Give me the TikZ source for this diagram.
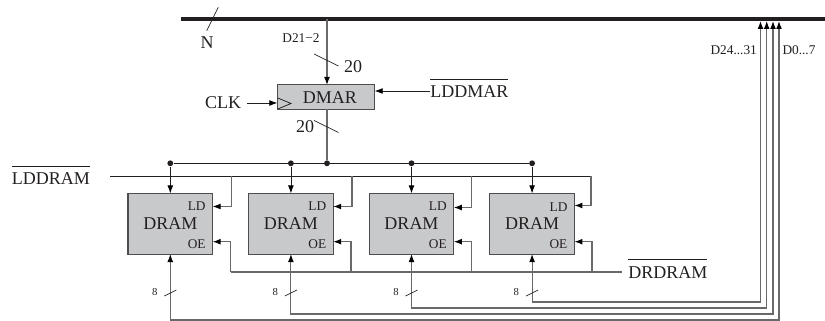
\documentclass[tikz,border=0pt]{standalone}
\usepackage{fontspec}
\setmainfont{Liberation Serif}
\usetikzlibrary{arrows.meta,positioning}
\definecolor{boxfill}{RGB}{200,201,203}
\definecolor{wirecol}{RGB}{105,105,105}
\definecolor{inkcol}{RGB}{35,31,32}
\newcommand{\barred}[1]{\vbox{\hrule height 0.7pt\kern 4.4pt\hbox{#1}}}

\begin{document}
\begin{tikzpicture}[
  x=0.75pt, y=-0.75pt,
  every node/.style={text=inkcol},
  chip/.style={draw=inkcol!80, line width=0.8pt, fill=boxfill, inner sep=0pt, outer sep=0pt, font=\fontsize{13.5}{15}\selectfont},
  dram/.style={chip, minimum width=63.45pt, minimum height=45.5pt},
  reg/.style={chip, minimum width=73pt, minimum height=18.4pt},
  big/.style={inner sep=0pt, font=\fontsize{13.5}{15}\selectfont},
  small/.style={inner sep=0pt, font=\fontsize{10}{12}\selectfont},
  tiny/.style={inner sep=0pt, font=\fontsize{8}{10}\selectfont},
  dot/.style={circle, fill=inkcol, inner sep=0pt, minimum size=4.4pt},
  wire/.style={draw=wirecol, line width=0.8pt},
  dark/.style={draw=inkcol, line width=0.6pt},
  arr/.style={-{Latex[length=6pt,width=4.4pt,color=black]}},
  both/.style={{Latex[length=6pt,width=4.4pt,color=black]}-{Latex[length=6pt,width=4.4pt,color=black]}},
  tick/.style={draw=inkcol, line width=0.5pt},
  node distance=27pt
]
  \useasboundingbox (0,0) rectangle (825,321);

  \coordinate (busl) at (181,19);
  \coordinate (busr) at (825,19);
  \draw[draw=inkcol, line width=3pt] (busl) -- (busr);
  \coordinate (ntop) at (218.3,7.3);
  \coordinate (nbot) at (206.7,30.7);
  \draw[tick] (ntop) -- (nbot);
  \node[big] (nlabel) at (207,43) {N};

  \node[reg] (dmar) at (326,97.2) {\hspace{6pt}DMAR};
  \node[small] (dlabel) at (301,38.5) {D21−2};
  \coordinate (busin) at (327,19);
  \draw[wire, arr] (busin) -- (busin |- dmar.north);
  \coordinate (t1a) at (314,54);
  \coordinate (t1b) at (338.5,66);
  \draw[tick] (t1a) -- (t1b);
  \node[big] (w1) at (353,66.5) {20};

  \node[big] (clk) at (223,103) {CLK};
  \coordinate (clkin) at (dmar.west |- clk);
  \draw[dark, arr] (247,103) -- (clkin);
  \coordinate (ck1) at (277.8,98);
  \coordinate (ck2) at (291,103.5);
  \coordinate (ck3) at (277.8,109);
  \draw[tick, line width=0.6pt] (ck1) -- (ck2) -- (ck3);

  \node[big, anchor=base west] (lddmar) at (430,97.3) {\barred{LDDMAR}};
  \coordinate (ldout) at (430,91);
  \draw[dark, arr] (ldout) -- (dmar.east |- ldout);

  % address fanout
  \node[dram] (d1) at (170.3,223.7) {DRAM};
  \node[dram, right=27pt of d1] (d2) {DRAM};
  \node[dram, right=27pt of d2] (d3) {DRAM};
  \node[dram, right=27pt of d3] (d4) {DRAM};

  \node[small] (ld1) at (196.7,206) {LD};
  \node[small] (ld2) at (317.3,206) {LD};
  \node[small] (ld3) at (437.8,206) {LD};
  \node[small] (ld4) at (558.5,207) {LD};
  \node[small] (oe1) at (196.7,243.7) {OE};
  \node[small] (oe2) at (317.3,243.7) {OE};
  \node[small] (oe3) at (437.8,243.7) {OE};
  \node[small] (oe4) at (558.5,243.7) {OE};

  \node[dot] (j1) at (d1.north |- 0,163.3) {};
  \node[dot] (j2) at (d2.north |- 0,163.3) {};
  \node[dot] (jm) at (327,163.3) {};
  \node[dot] (j3) at (d3.north |- 0,163.3) {};
  \node[dot] (j4) at (d4.north |- 0,163.3) {};
  \draw[dark] (j1) -- (j4);
  \draw[wire] (jm |- dmar.south) -- (jm);
  \draw[dark, arr] (j1) -- (d1.north);
  \draw[dark, arr] (j2) -- (d2.north);
  \draw[dark, arr] (j3) -- (d3.north);
  \draw[dark, arr] (j4) -- (d4.north);
  \coordinate (t2a) at (314,120.5);
  \coordinate (t2b) at (338.5,132.5);
  \draw[tick] (t2a) -- (t2b);
  \node[big] (w2) at (305,127) {20};

  % load strobe
  \node[big, anchor=base west] (lddram) at (11.7,185) {\barred{LDDRAM}};
  \coordinate (ldl) at (110,176);
  \coordinate (ldr) at (591,176);
  \draw[dark] (ldl) -- (ldr);
  \coordinate (lt1) at (231.3,176);
  \coordinate (lt2) at (352,176);
  \coordinate (lt3) at (471.7,176);
  \draw[wire, arr] (lt1) |- (d1.east |- 0,206.5);
  \draw[wire, arr] (lt2) |- (d2.east |- 0,206.5);
  \draw[wire, arr] (lt3) |- (d3.east |- 0,207.5);
  \draw[wire, arr] (ldr) |- (d4.east |- 0,205.5);

  % output enable
  \node[big, anchor=base west] (drdram) at (628,278) {\barred{DRDRAM}};
  \coordinate (oel) at (230.5,272);
  \coordinate (oer) at (622,272);
  \draw[wire] (oel) -- (oer);
  \coordinate (ot2) at (351,272);
  \coordinate (ot3) at (471.7,272);
  \coordinate (ot4) at (592,272);
  \draw[wire, arr] (oel) |- (d1.east |- 0,241.7);
  \draw[wire, arr] (ot2) |- (d2.east |- 0,241.7);
  \draw[wire, arr] (ot3) |- (d3.east |- 0,241.7);
  \draw[wire, arr] (ot4) |- (d4.east |- 0,241.7);

  % data lines
  \coordinate (u1) at (760.5,21);
  \coordinate (u2) at (766.7,21);
  \coordinate (u3) at (773,21);
  \coordinate (u4) at (779,21);
  \coordinate (b1) at (d4.south |- 0,302);
  \coordinate (b2) at (d3.south |- 0,308);
  \coordinate (b3) at (d2.south |- 0,314);
  \coordinate (b4) at (d1.south |- 0,320);
  \draw[wire, both] (d4.south) -- (b1) -- (u1 |- b1) -- (u1);
  \draw[wire, both] (d3.south) -- (b2) -- (u2 |- b2) -- (u2);
  \draw[wire, both] (d2.south) -- (b3) -- (u3 |- b3) -- (u3);
  \draw[wire, both] (d1.south) -- (b4) -- (u4 |- b4) -- (u4);
  \node[small] (dhi) at (733.7,50) {D24...31};
  \node[small] (dlo) at (799,50) {D0...7};

  \node[tiny] (n1) at (154.7,292) {8};
  \node[tiny] (n2) at (275.3,292) {8};
  \node[tiny] (n3) at (396,292) {8};
  \node[tiny] (n4) at (516.2,292) {8};
  \draw[tick] ([shift={(-6,4)}]d1.south |- n1) -- ([shift={(6,-2)}]d1.south |- n1);
  \draw[tick] ([shift={(-6,4)}]d2.south |- n2) -- ([shift={(6,-2)}]d2.south |- n2);
  \draw[tick] ([shift={(-6,4)}]d3.south |- n3) -- ([shift={(6,-2)}]d3.south |- n3);
  \draw[tick] ([shift={(-6,4)}]d4.south |- n4) -- ([shift={(6,-2)}]d4.south |- n4);
\end{tikzpicture}
\end{document}
